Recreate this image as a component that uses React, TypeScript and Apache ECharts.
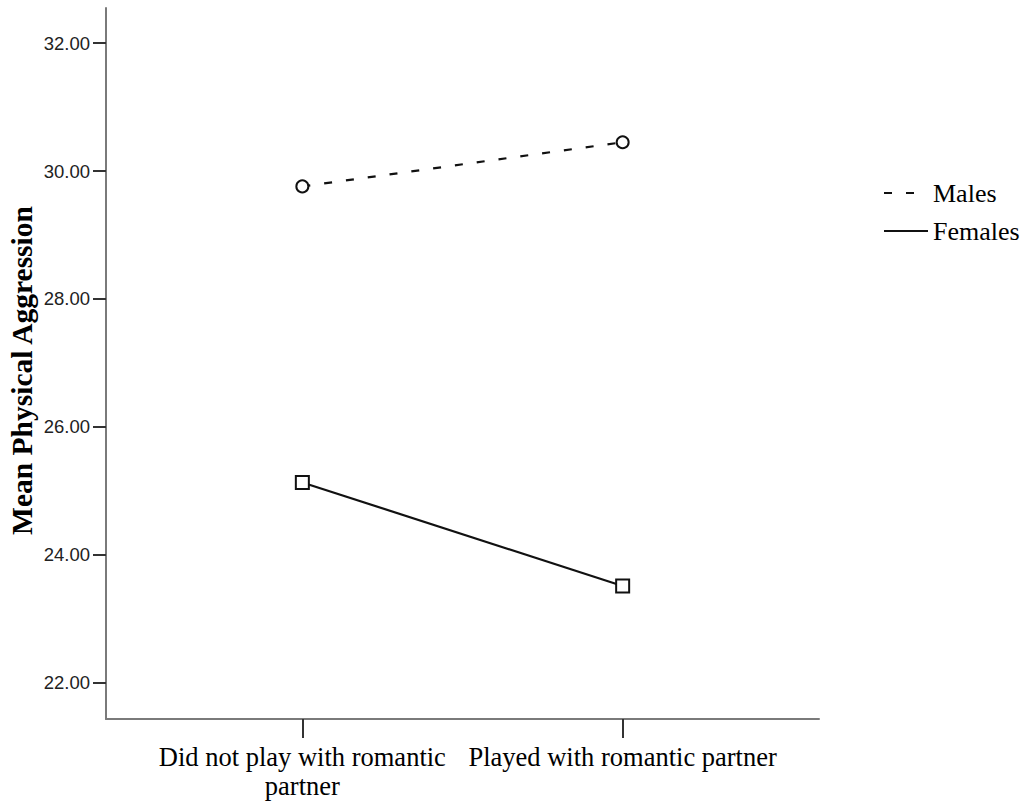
import React, { useEffect, useRef } from "react";
import * as echarts from "echarts";

const categories = ["Did not play with romantic\npartner", "Played with romantic partner"];
const categoryPositions = [0, 1];
const malesValues = [29.76, 30.45];
const femalesValues = [25.13, 23.51];
const yTickValues = [22, 24, 26, 28, 30, 32];
const seriesNames = ["Males", "Females"];
const yAxisTitle = "Mean Physical Aggression";

export default function App() {
  const ref = useRef<HTMLDivElement>(null);
  useEffect(() => {
    if (!ref.current) return;
    const chart = echarts.init(ref.current, undefined, { renderer: "svg" });
    const toPairs = (vals: number[]) => vals.map((v, i) => [categoryPositions[i], v]);
    chart.setOption({
      animation: false,
      backgroundColor: "#ffffff",
      textStyle: { fontFamily: "Liberation Serif", color: "#000" },
      grid: { left: 106, right: 208, top: 8, bottom: 85, containLabel: false, outerBoundsMode: "none" },
      legend: {
        orient: "vertical",
        left: 878,
        top: 175,
        itemWidth: 44,
        itemHeight: 14,
        itemGap: 12,
        data: seriesNames,
        itemStyle: { opacity: 0 },
        textStyle: { fontFamily: "Liberation Serif", fontSize: 26, color: "#000", lineHeight: 26, padding: [0, 0, 0, 0] },
      },
      xAxis: {
        type: "value",
        min: -0.613,
        max: 1.613,
        splitLine: { show: false },
        axisLine: { show: true, onZero: false, lineStyle: { color: "#7a7a7a", width: 2 } },
        axisTick: { show: true, customValues: categoryPositions, length: 19, lineStyle: { color: "#333", width: 2 } },
        axisLabel: {
          show: true,
          customValues: categoryPositions,
          margin: 23,
          fontFamily: "Liberation Serif",
          fontSize: 26.5,
          lineHeight: 29,
          color: "#000",
          align: "center",
          formatter: (v: number) => {
            const idx = categoryPositions.indexOf(Math.round(v));
            return idx >= 0 ? categories[idx] : "";
          },
        },
      },
      yAxis: {
        type: "value",
        min: 21.43,
        max: 32.55,
        name: yAxisTitle,
        nameLocation: "middle",
        nameGap: 69,
        nameMoveOverlap: false,
        nameTextStyle: {
          fontFamily: "Liberation Serif",
          fontWeight: "bold",
          fontSize: 29.5,
          color: "#000",
          padding: [0, 14, 0, 0],
        },
        splitLine: { show: false },
        axisLine: { show: true, onZero: false, lineStyle: { color: "#7a7a7a", width: 2 } },
        axisTick: { show: true, customValues: yTickValues, length: 13, lineStyle: { color: "#333", width: 2 } },
        axisLabel: {
          show: true,
          customValues: yTickValues,
          margin: 16,
          fontFamily: "Liberation Sans",
          fontSize: 18.5,
          color: "#222",
          formatter: (v: number) => v.toFixed(2),
        },
      },
      series: [
        {
          name: seriesNames[0],
          type: "line",
          data: toPairs(malesValues),
          symbol: "emptyCircle",
          symbolSize: 12,
          itemStyle: { color: "#111", borderWidth: 1.8 },
          lineStyle: { color: "#111", width: 2.2, type: [8, 14] },
        },
        {
          name: seriesNames[1],
          type: "line",
          data: toPairs(femalesValues),
          symbol: "emptyRect",
          symbolSize: 13,
          itemStyle: { color: "#111", borderWidth: 1.8 },
          lineStyle: { color: "#111", width: 2.2, type: "solid" },
        },
      ],
    });
    return () => chart.dispose();
  }, []);
  return (
    <div
      ref={ref}
      style={{ position: "fixed", left: 0, top: 0, width: 1027, height: 804, background: "#fff" }}
    />
  );
}
